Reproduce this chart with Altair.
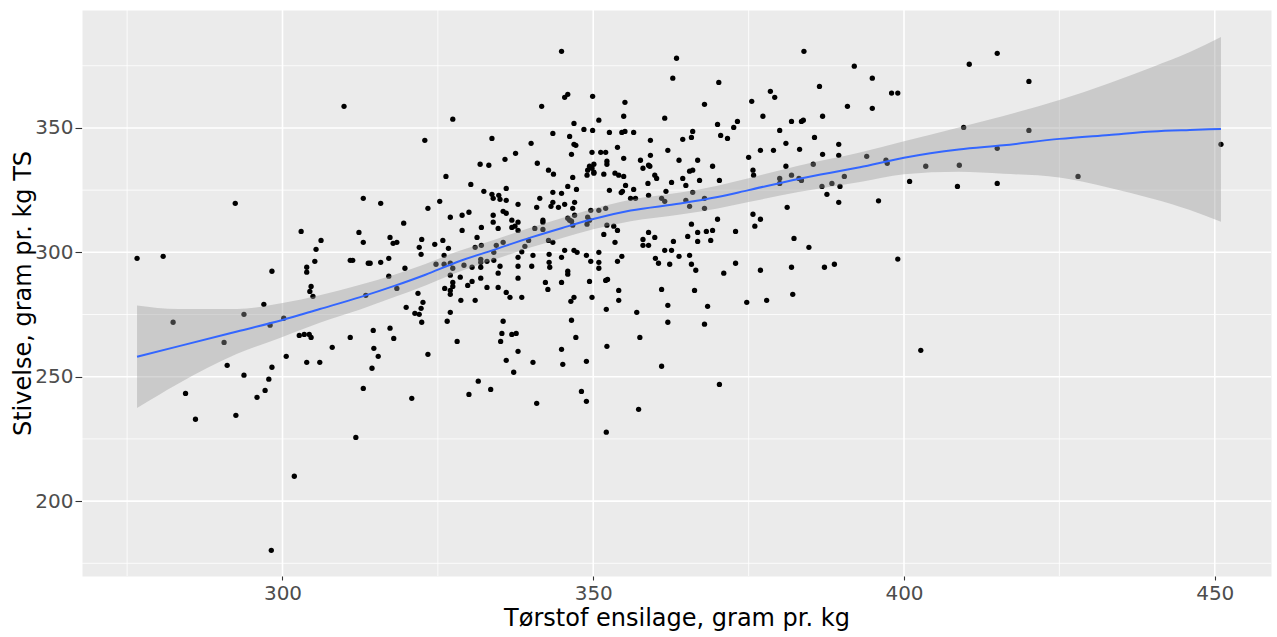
import altair as alt
import pandas as pd

# ---- scatter points (tørstof, stivelse), grouped by region ----
pts_left = [
    (309.9, 358.7), (292.4, 319.7), (303.0, 308.4), (306.2, 304.8), (312.3, 308.0), (276.6, 297.6),
    (280.8, 298.4), (305.4, 301.2), (305.2, 296.4), (303.9, 294.0), (303.9, 292.0), (298.3, 292.4),
    (310.9, 296.8), (311.3, 296.8), (304.6, 286.3), (304.4, 284.3), (304.9, 282.3), (297.0, 279.1),
    (293.8, 275.1), (282.4, 271.9), (300.2, 273.5), (298.0, 270.7), (290.6, 263.8), (302.7, 266.6),
    (303.5, 267.0), (304.3, 267.0), (304.6, 265.8), (310.9, 265.8), (308.0, 261.8), (300.6, 258.2),
    (291.1, 254.6), (298.3, 253.8), (303.9, 255.8), (306.0, 255.8), (293.8, 250.6), (297.8, 249.0),
    (297.2, 244.5), (295.9, 241.7), (284.4, 243.3), (286.0, 232.9), (292.5, 234.5), (311.8, 225.6),
    (301.9, 210.0), (298.2, 180.2),
]
pts_b_top = [
    (327.4, 353.5), (322.9, 345.0), (333.7, 345.8), (337.5, 339.8), (335.8, 337.4), (331.8, 335.4),
    (333.2, 335.0), (326.3, 330.5), (330.3, 327.3), (336.0, 325.7), (332.4, 324.5), (333.7, 323.3),
    (334.8, 322.9), (333.9, 321.7), (335.0, 321.3), (336.0, 320.9), (313.0, 321.7), (315.8, 319.7),
    (325.3, 320.5), (337.9, 319.3), (323.4, 317.7), (327.0, 314.1), (328.9, 314.9), (330.0, 316.1),
    (333.9, 314.9), (335.5, 316.5), (336.0, 315.7), (319.5, 311.7), (333.9, 312.1), (336.9, 312.9),
    (337.9, 312.1), (336.9, 310.0), (337.4, 310.5), (337.9, 308.8), (334.7, 309.6), (332.0, 310.0),
    (328.9, 308.8), (313.0, 304.0), (317.3, 306.0), (317.8, 303.6), (318.4, 304.0), (322.4, 305.2),
    (322.0, 302.0), (324.5, 303.2), (325.8, 304.8), (326.7, 301.6), (331.3, 306.0), (331.0, 302.0),
    (332.0, 302.8), (334.4, 302.8), (335.5, 304.0),
]
pts_b_bottom = [
    (322.3, 299.2), (326.0, 298.8), (317.1, 297.6), (315.8, 296.0), (313.8, 295.6), (314.1, 295.6),
    (319.7, 293.6), (324.7, 295.2), (326.0, 295.2), (327.0, 295.6), (327.4, 293.6), (329.2, 294.8),
    (330.5, 294.0), (331.9, 297.2), (331.9, 296.0), (332.9, 296.4), (334.0, 296.8), (334.0, 300.0),
    (335.0, 294.4), (337.9, 298.0), (337.9, 294.4), (337.9, 289.6), (331.9, 294.0), (317.1, 290.4),
    (327.0, 290.8), (328.6, 290.0), (331.9, 289.6), (330.5, 288.3), (329.8, 286.7), (327.4, 287.9),
    (327.4, 286.3), (326.1, 285.5), (327.0, 284.7), (327.0, 283.1), (318.4, 285.5), (313.4, 282.7),
    (332.9, 285.9), (334.7, 285.9), (334.7, 291.6), (336.0, 283.9), (336.6, 281.9), (321.8, 283.5),
    (322.6, 279.9), (322.3, 277.5), (321.3, 275.5), (322.0, 275.1), (319.9, 277.9), (322.4, 271.9),
    (328.7, 280.7), (331.0, 280.7), (327.0, 275.9), (326.5, 272.3), (335.5, 272.3), (335.3, 267.4),
    (336.9, 267.0), (337.6, 267.4), (335.1, 264.2), (337.9, 260.2), (336.0, 256.6), (337.2, 251.8),
    (314.6, 268.6), (317.3, 269.5), (317.9, 265.4), (314.7, 261.4), (315.4, 258.2), (314.4, 253.4),
    (323.4, 259.0), (328.1, 264.2), (313.0, 245.3), (320.8, 241.3), (331.5, 248.2), (330.0, 242.9),
    (333.5, 244.9),
]
pts_c_top = [
    (344.9, 380.8), (363.4, 378.0), (362.8, 370.0), (345.4, 362.3), (345.9, 363.5), (349.9, 362.7),
    (341.7, 358.7), (355.1, 360.3), (354.9, 354.7), (361.5, 353.9), (350.9, 353.1), (346.9, 351.8),
    (348.5, 349.4), (349.9, 349.0), (352.6, 348.2), (354.6, 348.2), (355.1, 348.6), (356.5, 348.2),
    (343.5, 347.8), (346.2, 346.6), (359.2, 345.0), (340.0, 343.8), (346.9, 343.4), (347.2, 343.0),
    (353.9, 342.2), (362.0, 341.0), (346.5, 339.4), (349.8, 340.2), (351.2, 340.2), (352.0, 340.2),
    (359.2, 339.0), (363.8, 337.0), (354.9, 337.8), (357.6, 337.0), (352.2, 336.6), (352.2, 335.4),
    (341.0, 335.8), (350.1, 335.4), (358.0, 333.8), (358.9, 335.0), (359.1, 334.6), (349.4, 334.6),
    (349.1, 333.0), (349.8, 333.8), (350.1, 332.2), (349.0, 331.0), (350.1, 331.8), (342.8, 333.0),
    (343.6, 331.4), (351.7, 331.4), (353.5, 331.8), (354.1, 331.0), (354.9, 330.5), (346.7, 330.1),
    (359.9, 331.0), (360.2, 329.7), (358.8, 327.7), (362.6, 328.1), (345.9, 326.5), (347.3, 325.3),
    (355.2, 326.9), (356.5, 325.3), (352.6, 324.9), (354.7, 324.5), (354.5, 324.0), (361.7, 324.5),
    (343.5, 324.1), (344.9, 323.7), (341.4, 321.7), (356.0, 321.7), (356.8, 321.7), (358.9, 322.9),
    (361.0, 321.7), (361.5, 320.5), (343.5, 320.1), (343.2, 318.5), (344.4, 318.1), (345.4, 319.3),
    (347.0, 320.1), (346.7, 317.7), (340.9, 318.1), (349.6, 316.9), (350.9, 316.9), (352.0, 317.7),
    (347.0, 314.9), (345.9, 313.7), (346.2, 312.9), (346.5, 312.5), (341.9, 312.9), (341.9, 312.1),
    (341.9, 309.2), (340.6, 309.6), (349.1, 314.1), (349.4, 312.9), (349.0, 311.3), (346.7, 310.9),
    (352.2, 310.9), (353.3, 310.5), (353.9, 308.8), (351.7, 307.2), (353.5, 304.0), (358.9, 308.0),
    (359.9, 306.0), (358.0, 305.2), (358.0, 302.8), (358.9, 302.8), (362.9, 304.4), (361.5, 300.8),
    (362.6, 300.8), (342.8, 304.8), (343.5, 304.0), (339.6, 304.8), (339.0, 302.4), (345.4, 300.8),
    (346.9, 300.8),
]
pts_c_bottom = [
    (338.5, 300.2), (340.3, 298.8), (342.9, 299.2), (347.4, 300.0), (348.9, 298.8), (350.9, 300.0),
    (354.6, 298.4), (353.9, 296.4), (360.0, 297.6), (360.5, 295.6), (362.3, 295.2), (363.8, 298.4),
    (342.9, 296.0), (343.0, 294.0), (340.1, 294.4), (344.9, 298.0), (349.6, 296.4), (350.9, 296.0),
    (350.9, 293.6), (345.9, 292.4), (345.9, 291.2), (342.3, 287.9), (344.9, 287.9), (349.4, 288.3),
    (352.0, 288.7), (352.3, 289.1), (342.7, 285.1), (354.1, 284.7), (361.0, 285.1), (338.5, 281.9),
    (346.9, 281.9), (346.4, 280.3), (349.8, 281.9), (354.1, 280.7), (352.1, 277.1), (357.0, 275.9),
    (362.0, 278.7), (362.0, 271.9), (346.5, 272.7), (347.2, 265.8), (357.5, 265.8), (352.2, 262.2),
    (344.9, 261.0), (340.3, 255.8), (345.1, 255.0), (348.9, 256.2), (361.0, 254.2), (348.1, 244.1),
    (348.9, 240.1), (340.9, 239.3), (357.3, 236.9), (352.1, 227.7),
]
pts_d = [
    (383.9, 380.8), (392.0, 374.8), (370.2, 368.3), (386.4, 366.7), (378.5, 364.7), (379.2, 362.3),
    (367.9, 359.5), (375.5, 360.7), (390.9, 358.7), (377.3, 354.7), (386.9, 354.7), (370.0, 351.4),
    (373.2, 352.6), (372.6, 350.2), (381.9, 352.6), (383.5, 352.6), (383.8, 353.1), (366.0, 348.6),
    (364.4, 345.4), (365.8, 346.2), (370.5, 347.0), (371.6, 345.8), (380.0, 349.0), (385.6, 346.2),
    (381.0, 343.8), (389.5, 343.4), (376.9, 341.0), (379.0, 341.0), (383.2, 341.4), (386.9, 339.4),
    (389.5, 339.0), (375.0, 338.2), (366.8, 337.0), (369.2, 334.6), (365.5, 332.6), (366.0, 333.0),
    (381.0, 334.6), (385.4, 335.4), (375.7, 333.0), (375.8, 331.0), (364.4, 329.7), (367.1, 328.9),
    (370.3, 328.9), (364.9, 326.9), (380.0, 329.7), (380.0, 327.7), (381.9, 331.0), (383.1, 329.7),
    (383.5, 328.9), (390.4, 330.5), (386.8, 326.5), (388.4, 327.7), (389.7, 326.5), (387.6, 323.3),
    (389.5, 320.1), (366.0, 324.1), (364.9, 320.9), (365.5, 318.5), (367.9, 321.7), (367.9, 317.7),
    (381.2, 318.1), (375.7, 315.3), (376.9, 313.3), (376.0, 310.5), (370.0, 313.3), (365.8, 311.3),
    (365.2, 306.4), (366.8, 308.0), (366.8, 304.4), (368.2, 308.4), (369.2, 308.8), (368.9, 304.8),
    (372.9, 308.4), (382.3, 305.6), (384.7, 302.0),
    (365.5, 298.8), (365.8, 295.2), (366.5, 292.8), (372.9, 295.6), (371.0, 291.6), (376.9, 292.8),
    (381.9, 294.0), (387.2, 294.0), (388.8, 295.2), (366.3, 284.7), (368.4, 278.3), (374.7, 279.9),
    (377.9, 280.7), (382.1, 283.1), (367.9, 271.1), (370.3, 246.9),
]
pts_right = [
    (394.9, 370.0), (394.9, 357.9), (398.0, 364.0), (399.0, 364.0), (410.5, 375.6), (415.0, 380.0),
    (420.1, 368.7), (409.6, 350.2), (420.1, 349.0), (394.0, 338.6), (397.1, 337.0), (397.3, 335.8),
    (403.5, 334.6), (408.9, 335.0), (415.0, 341.8), (400.9, 328.5), (408.6, 326.5), (415.0, 327.7),
    (428.0, 330.5), (395.9, 320.7), (451.0, 343.4), (399.0, 297.3), (402.7, 260.6),
]

# ---- loess smoother with confidence band ----
fit_x = [276.6, 283.2, 292.7, 300.0, 306.0, 312.5, 318.0, 323.0, 328.0, 334.0, 340.0, 345.0, 350.0,
         356.0, 364.0, 370.0, 375.0, 383.0, 392.9, 400.0, 408.8, 416.0, 425.0, 433.0, 440.0, 446.0, 451.0]
fit_y = [258.0, 262.2, 268.2, 272.8, 277.2, 282.0, 286.5, 291.0, 296.0, 301.0, 306.0, 309.8, 313.4,
         316.8, 319.6, 322.2, 325.0, 329.5, 334.2, 338.0, 341.3, 343.0, 345.6, 347.2, 348.6, 349.2, 349.6]
fit_lo = [237.4, 247.2, 259.2, 266.0, 271.7, 277.0, 282.0, 286.7, 291.8, 297.0, 302.0, 305.8, 309.3,
          312.5, 315.2, 317.6, 320.2, 324.2, 328.3, 331.4, 332.4, 331.6, 330.1, 326.0, 321.5, 317.0, 312.3]
fit_hi = [278.6, 277.2, 277.2, 279.6, 282.7, 287.0, 291.0, 295.3, 300.2, 305.0, 310.0, 313.8, 317.5,
          321.1, 324.0, 326.8, 329.8, 334.8, 340.1, 344.6, 350.2, 354.8, 361.2, 368.0, 374.5, 380.5, 386.5]

# ---- axis ticks / grid ----
x_major = [300, 350, 400, 450]
x_minor = [275, 325, 375, 425]
y_major = [200, 250, 300, 350]
y_minor = [175, 225, 275, 325, 375]
x_domain = [267.74, 459.05]
y_domain = [169.9, 397.4]

X_TITLE = "Tørstof ensilage, gram pr. kg"
Y_TITLE = "Stivelse, gram pr. kg TS"

all_pts = pts_left + pts_b_top + pts_b_bottom + pts_c_top + pts_c_bottom + pts_d + pts_right
points_df = pd.DataFrame(all_pts, columns=["torstof", "stivelse"])
fit_df = pd.DataFrame({"fx": fit_x, "fy": fit_y, "lo": fit_lo, "hi": fit_hi})

W, H = 1189, 566
FONT = "DejaVu Sans"

xs = alt.Scale(domain=x_domain, nice=False, zero=False)
ys = alt.Scale(domain=y_domain, nice=False, zero=False)

x_axis = alt.Axis(
    title=X_TITLE, values=x_major, grid=False, domain=False, format="d",
    tickColor="#333333", tickSize=4, tickWidth=1.1,
    labelColor="#4D4D4D", labelFontSize=20, labelFont=FONT, labelPadding=3, labelFlush=False,
    titleFont=FONT, titleFontSize=24, titleFontWeight="normal", titleColor="black",
    titleX=W / 2, titleY=42, titleAlign="center", titleBaseline="middle",
)
y_axis = alt.Axis(
    title=Y_TITLE, values=y_major, grid=False, domain=False, format="d",
    tickColor="#333333", tickSize=7, tickWidth=1.1,
    labelColor="#4D4D4D", labelFontSize=20, labelFont=FONT, labelPadding=2, labelFlush=False,
    titleFont=FONT, titleFontSize=24, titleFontWeight="normal", titleColor="black",
    titleX=-59, titleY=H / 2, titleAlign="center", titleBaseline="middle", titleAngle=270,
)

grid_x_minor = alt.Chart(pd.DataFrame({"torstof": x_minor})).mark_rule(
    color="white", strokeWidth=0.8).encode(x=alt.X("torstof:Q", scale=xs, axis=x_axis))
grid_x_major = alt.Chart(pd.DataFrame({"torstof": x_major})).mark_rule(
    color="white", strokeWidth=1.6).encode(x=alt.X("torstof:Q", scale=xs, axis=x_axis))
grid_y_minor = alt.Chart(pd.DataFrame({"stivelse": y_minor})).mark_rule(
    color="white", strokeWidth=0.8).encode(y=alt.Y("stivelse:Q", scale=ys, axis=y_axis))
grid_y_major = alt.Chart(pd.DataFrame({"stivelse": y_major})).mark_rule(
    color="white", strokeWidth=1.6).encode(y=alt.Y("stivelse:Q", scale=ys, axis=y_axis))

points = alt.Chart(points_df).mark_circle(size=28, color="black", opacity=1).encode(
    x=alt.X("torstof:Q", scale=xs, axis=x_axis),
    y=alt.Y("stivelse:Q", scale=ys, axis=y_axis),
)

band = alt.Chart(fit_df).mark_area(color="#999999", opacity=0.4, interpolate="monotone").encode(
    x=alt.X("fx:Q", scale=xs, axis=x_axis),
    y=alt.Y("lo:Q", scale=ys, axis=y_axis),
    y2="hi:Q",
)
line = alt.Chart(fit_df).mark_line(color="#3366FF", strokeWidth=2, interpolate="monotone").encode(
    x=alt.X("fx:Q", scale=xs, axis=x_axis),
    y=alt.Y("fy:Q", scale=ys, axis=y_axis),
)

chart = alt.layer(
    grid_x_minor, grid_y_minor, grid_x_major, grid_y_major, points, band, line
).properties(
    width=W, height=H,
    autosize=alt.AutoSizeParams(type="none"),
    padding={"left": 82, "top": 10, "right": 6, "bottom": 61},
    background="white",
).configure_view(
    fill="#EBEBEB", stroke="transparent"
)

chart.save("out.html", embed_options={"renderer": "svg", "actions": False})
